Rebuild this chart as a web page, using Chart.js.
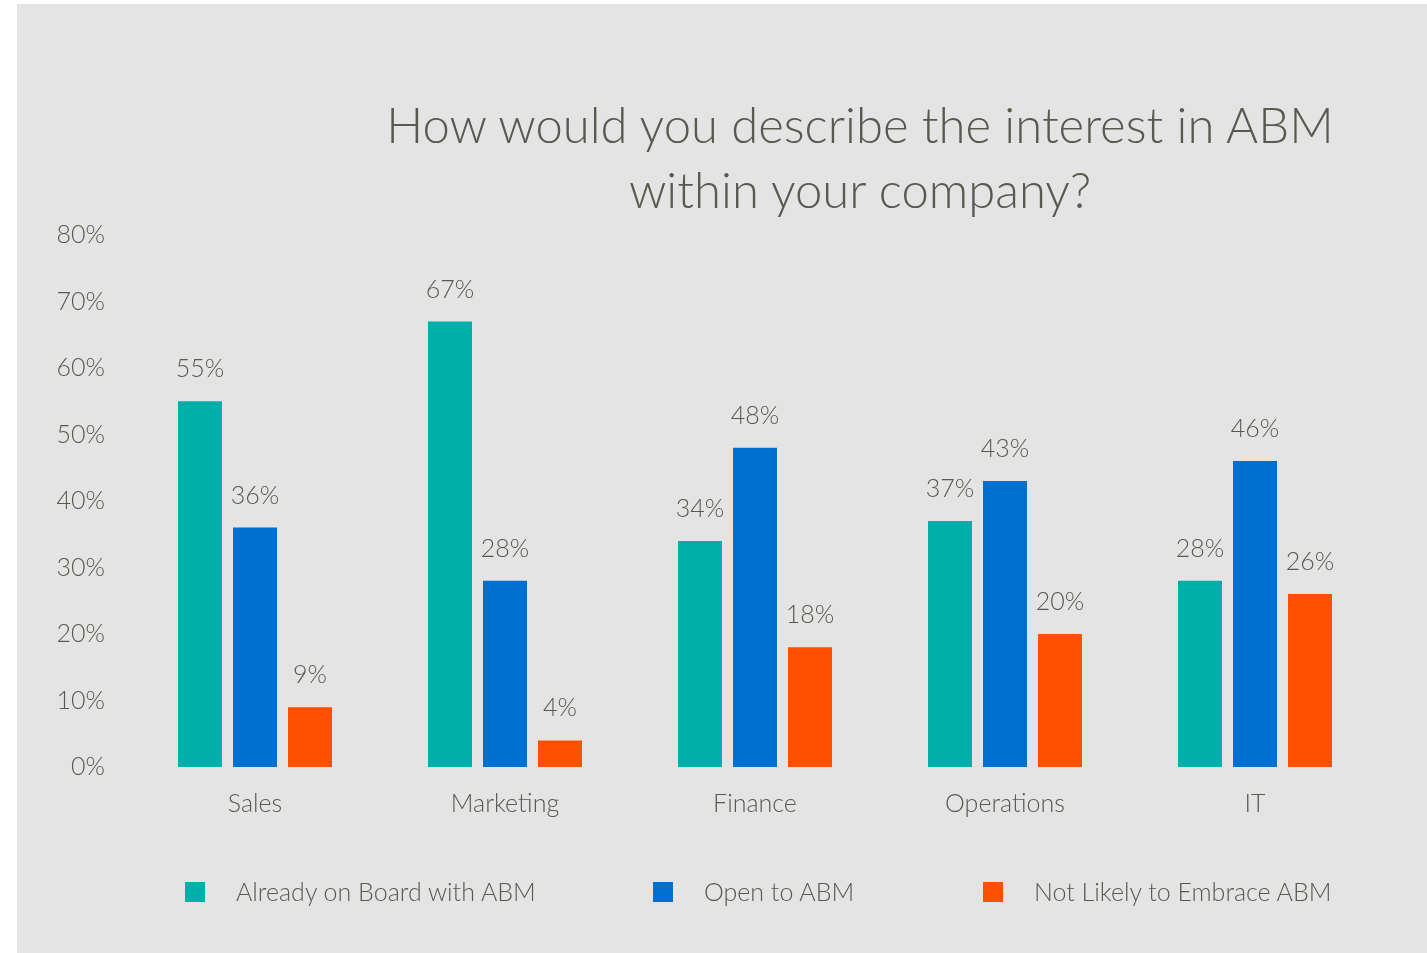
<!DOCTYPE html>
<html>
<head>
<meta charset="utf-8">
<script src="https://cdn.jsdelivr.net/npm/chart.js@4/dist/chart.umd.min.js"></script>
<style>
  html, body { margin: 0; padding: 0; background: #fff; }
  body { width: 1427px; height: 953px; position: relative; overflow: hidden; font-family: Lato, "Noto Sans", sans-serif; }
  .panel { position: absolute; left: 17px; top: 4px; width: 1410px; height: 949px; background: #e4e4e4; }
  .panel canvas { position: absolute; left: 0; top: 0; }
  .title { position: absolute; left: 153px; width: 1380px; top: 88px; text-align: center;
           font-size: 49px; line-height: 65px; color: #595950; font-weight: 300; }
  .legend-item { position: absolute; top: 872px; height: 30px; font-size: 25px; line-height: 30px; color: #595950; white-space: nowrap; font-weight: 300; }
  .legend-item span.box { position: absolute; left: 0; top: 6px; width: 20px; height: 20px; }
  .legend-item span.txt { position: absolute; left: 51px; top: 0; }
</style>
</head>
<body>
<div class="panel">
  <canvas id="abmChart" width="1410" height="949"></canvas>
  <div class="title">How would you describe the interest in ABM<br>within your company?</div>
  <div id="legend"></div>
</div>
<script>
// ===== Data =====
const categories = ['Sales', 'Marketing', 'Finance', 'Operations', 'IT'];
const seriesNames = ['Already on Board with ABM', 'Open to ABM', 'Not Likely to Embrace ABM'];
const alreadyOnBoard = [55, 67, 34, 37, 28];
const openToAbm = [36, 28, 48, 43, 46];
const notLikely = [9, 4, 18, 20, 26];
const yTicks = [0, 10, 20, 30, 40, 50, 60, 70, 80];
const seriesColors = ['#00afa9', '#0070d0', '#ff5000'];

const textColor = '#595950';
const fontFamily = 'Lato, "Noto Sans", sans-serif';

// ===== Legend (HTML) =====
const legendX = [168, 636, 966];
const legendEl = document.getElementById('legend');
seriesNames.forEach((name, i) => {
    const item = document.createElement('div');
    item.className = 'legend-item';
    item.style.left = legendX[i] + 'px';
    item.innerHTML = `<span class="box" style="background:${seriesColors[i]}"></span><span class="txt">${name}</span>`;
    legendEl.appendChild(item);
});

// ===== Value labels above each bar =====
const valueLabels = {
    id: 'valueLabels',
    afterDatasetsDraw(chart) {
        const ctx = chart.ctx;
        ctx.save();
        ctx.fillStyle = textColor;
        ctx.font = `300 25px ${fontFamily}`;
        ctx.textAlign = 'center';
        ctx.textBaseline = 'middle';
        chart.data.datasets.forEach((ds, di) => {
            chart.getDatasetMeta(di).data.forEach((bar, i) => {
                ctx.fillText(ds.data[i] + '%', bar.x, bar.y - 32);
            });
        });
        ctx.restore();
    }
};

const ctx = document.getElementById('abmChart').getContext('2d');
new Chart(ctx, {
    type: 'bar',
    data: {
        labels: categories,
        datasets: [
            { label: seriesNames[0], data: alreadyOnBoard, backgroundColor: seriesColors[0] },
            { label: seriesNames[1], data: openToAbm, backgroundColor: seriesColors[1] },
            { label: seriesNames[2], data: notLikely, backgroundColor: seriesColors[2] }
        ]
    },
    options: {
        responsive: false,
        animation: false,
        events: [],
        layout: { padding: { left: 0, right: 47, top: 231, bottom: 126 } },
        datasets: { bar: { categoryPercentage: 0.66, barPercentage: 0.8 } },
        plugins: {
            legend: { display: false },
            tooltip: { enabled: false }
        },
        scales: {
            x: {
                grid: { display: false, drawTicks: false },
                border: { display: false },
                ticks: { color: textColor, font: { family: fontFamily, size: 25, weight: 300 }, padding: 22 },
                afterFit(scale) { scale.height = 60; }
            },
            y: {
                min: 0,
                max: 80,
                grid: { display: false, drawTicks: false },
                border: { display: false },
                afterBuildTicks(scale) { scale.ticks = yTicks.map(v => ({ value: v })); },
                ticks: {
                    color: textColor,
                    font: { family: fontFamily, size: 25, weight: 300 },
                    padding: 25,
                    callback: v => v + '%'
                },
                afterFit(scale) { scale.width = 113; }
            }
        }
    },
    plugins: [valueLabels]
});
</script>
</body>
</html>
